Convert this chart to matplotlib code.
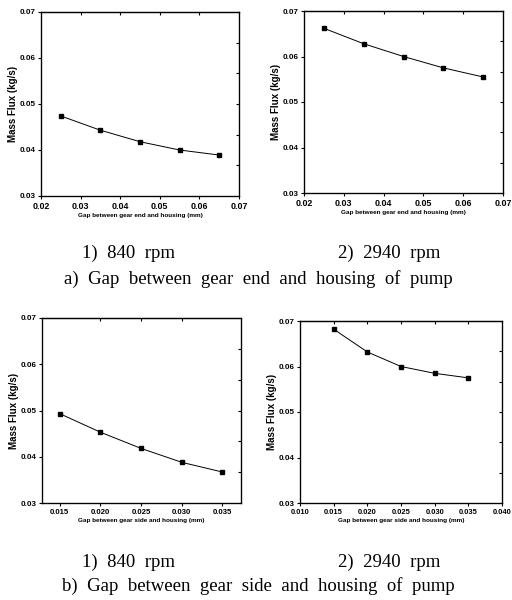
import numpy as np
import matplotlib.pyplot as plt

# gap values (mm)
gap_end = [0.025, 0.035, 0.045, 0.055, 0.065]
gap_side = [0.015, 0.020, 0.025, 0.030, 0.035]

# mass flux (kg/s)
flux_end_840 = [0.0474, 0.0443, 0.0418, 0.0400, 0.0389]
flux_end_2940 = [0.0662, 0.0628, 0.0600, 0.0575, 0.0555]
flux_side_840 = [0.0493, 0.0453, 0.0418, 0.0388, 0.0367]
flux_side_2940 = [0.0682, 0.0632, 0.0600, 0.0585, 0.0575]

W, H = 512, 600
fig = plt.figure(figsize=(W / 100, H / 100), dpi=100)

def box(l, t, r, b):
    return [l / W, 1 - b / H, (r - l) / W, (b - t) / H]

panels = [
    (box(41, 12, 239, 196), gap_end, flux_end_840, (0.02, 0.07), np.arange(0.02, 0.0701, 0.01), '%.2f', 6.4,
     'Gap between gear end and housing (mm)'),
    (box(304, 11, 503, 193), gap_end, flux_end_2940, (0.02, 0.07), np.arange(0.02, 0.0701, 0.01), '%.2f', 6.4,
     'Gap between gear end and housing (mm)'),
    (box(42, 318, 241, 503), gap_side, flux_side_840, (0.0128, 0.0373), np.arange(0.015, 0.0351, 0.005), '%.3f', 5.6,
     'Gap between gear side and housing (mm)'),
    (box(300, 321, 502, 503), gap_side, flux_side_2940, (0.010, 0.040), np.arange(0.010, 0.0401, 0.005), '%.3f', 5.4,
     'Gap between gear side and housing (mm)'),
]

sans = 'Liberation Sans'
for rect, x, y, xlim, xt, fmt, xfs, xlabel in panels:
    ax = fig.add_axes(rect)
    ax.plot(x, y, '-', color='black', lw=0.7, marker='s', ms=2.5)
    ax.set_xlim(*xlim)
    ax.set_ylim(0.03, 0.07)
    ax.set_xticks(xt)
    ax.set_xticklabels([fmt % v for v in xt], fontsize=xfs, fontweight='bold', family=sans)
    yt = np.arange(0.03, 0.0701, 0.01)
    ax.set_yticks(yt)
    ax.set_yticklabels(['%.2f' % v for v in yt], fontsize=5.8, fontweight='bold', family=sans)
    ax.tick_params(axis='both', length=2, width=0.8, direction='out', pad=2)
    ax.set_xlabel(xlabel, fontsize=4.6, fontweight='bold', family=sans, labelpad=2)
    ax.set_ylabel('Mass Flux (kg/s)', fontsize=7.0, fontweight='bold', family=sans, labelpad=1)
    for s in ax.spines.values():
        s.set_linewidth(0.9)
    # inner ticks on top and right, no labels
    top = ax.secondary_xaxis('top')
    top.set_xticks(xt[1:-1])
    top.tick_params(direction='in', length=2, width=0.8, labeltop=False)
    right = ax.twinx()
    right.set_ylim(0.03, 0.07)
    right.set_yticks(np.linspace(0.03, 0.07, 7)[1:-1])
    right.tick_params(direction='in', length=2, width=0.8, labelright=False)

serif = 'Liberation Serif'
fs = 13.5
fig.text(128 / W, 1 - 253 / H, '1)  840  rpm', ha='center', va='center', fontsize=fs, family=serif)
fig.text(389 / W, 1 - 253 / H, '2)  2940  rpm', ha='center', va='center', fontsize=fs, family=serif)
fig.text(258 / W, 1 - 279 / H, 'a)  Gap  between  gear  end  and  housing  of  pump',
         ha='center', va='center', fontsize=fs, family=serif)
fig.text(128 / W, 1 - 562 / H, '1)  840  rpm', ha='center', va='center', fontsize=fs, family=serif)
fig.text(389 / W, 1 - 562 / H, '2)  2940  rpm', ha='center', va='center', fontsize=fs, family=serif)
fig.text(258 / W, 1 - 586 / H, 'b)  Gap  between  gear  side  and  housing  of  pump',
         ha='center', va='center', fontsize=fs, family=serif)

fig.savefig('out.png', dpi=100)
